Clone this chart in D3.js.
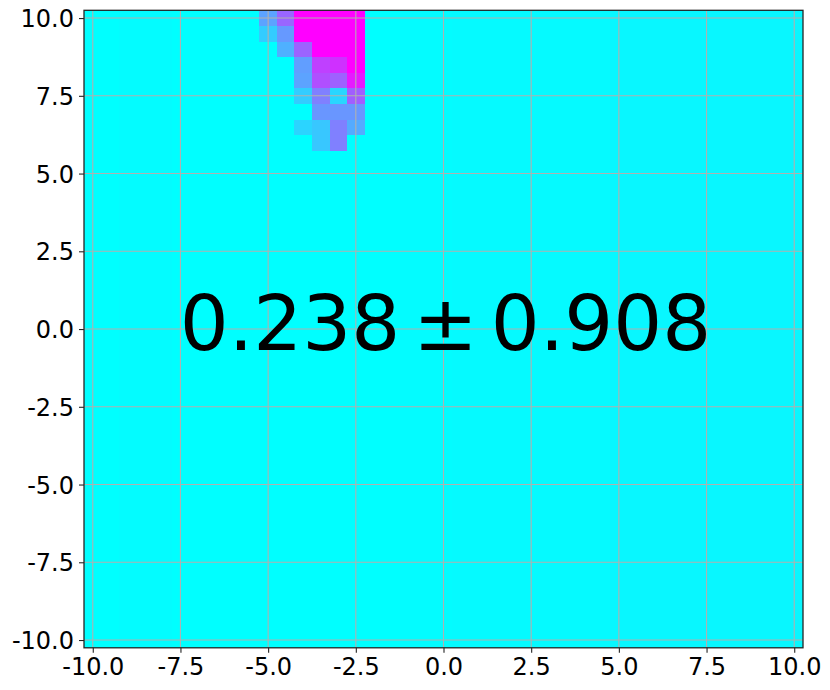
<!DOCTYPE html>
<html>
<head>
<meta charset="utf-8">
<script src="https://cdn.jsdelivr.net/npm/d3@7"></script>
<style>
  html, body { margin: 0; padding: 0; background: #ffffff; }
  svg { display: block; }
  text { font-family: "DejaVu Sans", sans-serif; }
</style>
</head>
<body>
<svg id="chart" width="830" height="690"></svg>
<script>
// ---- data ----
// cell centres of the 41 x 41 grid (cell size 0.5)
const gridX = d3.range(-10, 10.001, 0.5);
const gridY = d3.range(-10, 10.001, 0.5);
// faint per-column background level (read from tint)
const colBase = [
  0.00, 0.00, 0.01, 0.01, 0.01, 0.00, 0.00, 0.00, 0.00, 0.00,
  0.00, 0.00, 0.00, 0.00, 0.00, 0.00, 0.00, 0.00, 0.01, 0.01,
  0.01, 0.02, 0.02, 0.02, 0.02, 0.02, 0.02, 0.02, 0.02, 0.02,
  0.03, 0.03, 0.03, 0.03, 0.03, 0.03, 0.03, 0.03, 0.03, 0.03, 0.03
];
// hot cells: x centre, y centre, value (0 = cyan, 1 = magenta)
const hotX = [-5, -4.5, -4, -3.5, -3, -2.5,
              -5, -4.5, -4, -3.5, -3, -2.5,
              -4.5, -4, -3.5, -3, -2.5,
              -4, -3.5, -3, -2.5,
              -4, -3.5, -3, -2.5,
              -4, -3.5, -3, -2.5,
              -3.5, -3, -2.5,
              -4, -3.5, -3, -2.5,
              -3.5, -3];
const hotY = [10, 10, 10, 10, 10, 10,
              9.5, 9.5, 9.5, 9.5, 9.5, 9.5,
              9, 9, 9, 9, 9,
              8.5, 8.5, 8.5, 8.5,
              8, 8, 8, 8,
              7.5, 7.5, 7.5, 7.5,
              7, 7, 7,
              6.5, 6.5, 6.5, 6.5,
              6, 6];
const hotV = [0.36, 0.60, 1, 1, 1, 1,
              0.20, 0.40, 1, 1, 1, 1,
              0.31, 0.61, 1, 1, 1,
              0.38, 0.75, 0.81, 1,
              0.36, 0.69, 0.62, 0.90,
              0.20, 0.50, 0.16, 0.63,
              0.41, 0.41, 0.41,
              0.17, 0.22, 0.50, 0.33,
              0.22, 0.50];
const ticks = [-10, -7.5, -5, -2.5, 0, 2.5, 5, 7.5, 10];
const annotation = ["0.238", "\u00B1", "0.908"];

(function () {
  // ---- build cells ----
  const hotMap = new Map();
  hotX.forEach((hx, i) => hotMap.set(hx + "," + hotY[i], hotV[i]));
  const cells = [];
  gridX.forEach((gx, i) => {
    gridY.forEach(gy => {
      const key = gx + "," + gy;
      cells.push({x: gx, y: gy, v: hotMap.has(key) ? hotMap.get(key) : colBase[i]});
    });
  });

  // ---- layout ----
  const svg = d3.select("#chart");
  const pL = 84, pR = 803, pT = 10.3, pB = 647.8;
  const x = d3.scaleLinear().domain([-10.25, 10.25]).range([pL, pR]);
  const y = d3.scaleLinear().domain([-10.25, 10.25]).range([pB, pT]);
  const cool = v => d3.rgb(Math.round(255 * v), Math.round(255 * (1 - v)), 255).toString();

  svg.append("g").selectAll("rect").data(cells).join("rect")
    .attr("x", d => x(d.x - 0.25))
    .attr("y", d => y(d.y + 0.25))
    .attr("width", d => x(d.x + 0.25) - x(d.x - 0.25) + 0.4)
    .attr("height", d => y(d.y - 0.25) - y(d.y + 0.25) + 0.4)
    .attr("fill", d => cool(d.v))
    .attr("shape-rendering", "crispEdges");

  // grid
  const grid = svg.append("g").attr("stroke", "#b0b0b0").attr("stroke-width", 1.1);
  grid.selectAll("line.gx").data(ticks).join("line").attr("class", "gx")
    .attr("x1", d => x(d)).attr("x2", d => x(d)).attr("y1", pT).attr("y2", pB);
  grid.selectAll("line.gy").data(ticks).join("line").attr("class", "gy")
    .attr("y1", d => y(d)).attr("y2", d => y(d)).attr("x1", pL).attr("x2", pR);

  // axes
  const fmt = d => d.toFixed(1);
  const xAxis = svg.append("g").attr("transform", `translate(0,${pB})`)
    .call(d3.axisBottom(x).tickValues(ticks).tickFormat(fmt).tickSize(5).tickPadding(4));
  const yAxis = svg.append("g").attr("transform", `translate(${pL},0)`)
    .call(d3.axisLeft(y).tickValues(ticks).tickFormat(fmt).tickSize(5).tickPadding(5));
  [xAxis, yAxis].forEach(a => {
    a.select(".domain").remove();
    a.selectAll(".tick line").attr("stroke", "#222").attr("stroke-width", 1.1);
    a.selectAll(".tick text").attr("fill", "#000").style("font-size", "24px")
      .style("font-family", "'DejaVu Sans', sans-serif");
  });
  yAxis.selectAll(".tick text").attr("dy", "0.36em");
  xAxis.selectAll(".tick text").attr("dy", "0.76em");

  // frame
  svg.append("rect").attr("x", pL).attr("y", pT)
    .attr("width", pR - pL).attr("height", pB - pT)
    .attr("fill", "none").attr("stroke", "#262626").attr("stroke-width", 1.3);

  // annotation
  const t = svg.append("text")
    .attr("x", x(0) + 2).attr("y", y(0) + 21)
    .attr("text-anchor", "middle")
    .attr("fill", "#000")
    .style("font-size", "77px");
  t.append("tspan").text(annotation[0]);
  t.append("tspan").attr("dx", 13).text(annotation[1]);
  t.append("tspan").attr("dx", 13).text(annotation[2]);
})();
</script>
</body>
</html>
